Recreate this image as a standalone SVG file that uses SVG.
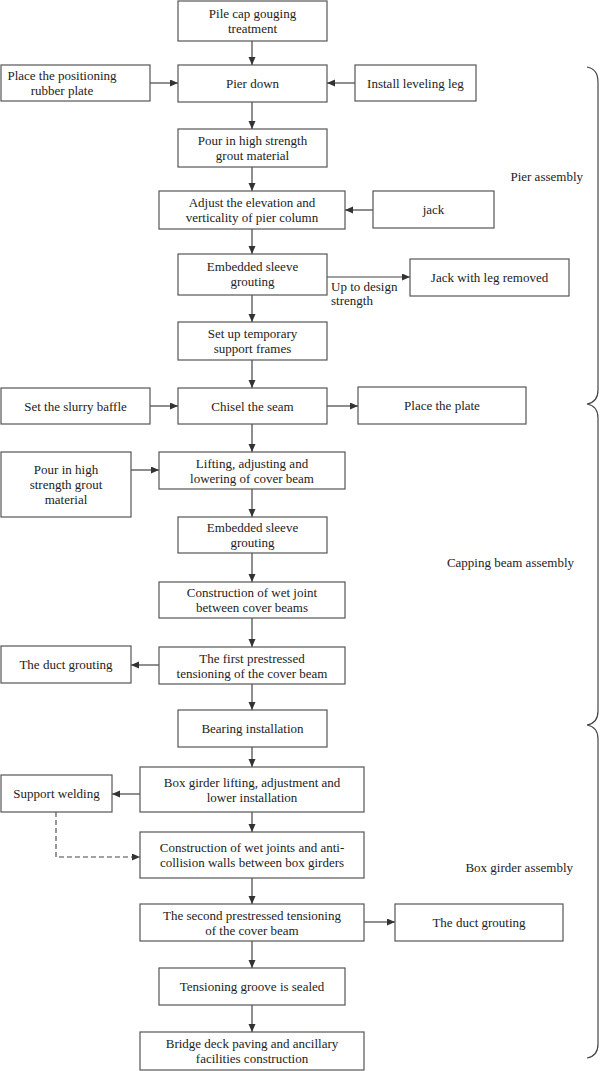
<svg xmlns="http://www.w3.org/2000/svg" width="600" height="1071" viewBox="0 0 600 1071">
<defs>
<marker id="ah" markerUnits="userSpaceOnUse" markerWidth="9" markerHeight="8" refX="8" refY="3.5" orient="auto">
<path d="M0,0 L8,3.5 L0,7 Z" fill="#333"/>
</marker>
<style>
.box{fill:#fff;stroke:#555;stroke-width:1.2}
text{font-family:"Liberation Serif","Times New Roman",serif;font-size:13px;fill:#222;text-anchor:middle}
.lab{text-anchor:end}
.lft{text-anchor:start}
.c{fill:none;stroke:#444;stroke-width:1.2;marker-end:url(#ah)}
.d{fill:none;stroke:#444;stroke-width:1.1;stroke-dasharray:5,3;marker-end:url(#ah)}
.br{fill:none;stroke:#444;stroke-width:1.2}
</style>
</defs>
<rect width="600" height="1071" fill="#fff"/>

<g id="connectors">
<path class="c" d="M252,41 V65"/>
<path class="c" d="M150,83 H178"/>
<path class="c" d="M355,83 H327"/>
<path class="c" d="M252,102 V129"/>
<path class="c" d="M252,167 V191"/>
<path class="c" d="M373,210 H345"/>
<path class="c" d="M252,229 V254"/>
<path class="c" d="M327,277 H410"/>
<path class="c" d="M252,295 V322"/>
<path class="c" d="M252,360 V388"/>
<path class="c" d="M150,406 H178"/>
<path class="c" d="M327,406 H358"/>
<path class="c" d="M252,424 V452"/>
<path class="c" d="M131,470 H159"/>
<path class="c" d="M252,489 V517"/>
<path class="c" d="M252,553 V582"/>
<path class="c" d="M252,618 V647"/>
<path class="c" d="M159,665 H131"/>
<path class="c" d="M252,684 V710"/>
<path class="c" d="M252,747 V767"/>
<path class="c" d="M140,794 H112"/>
<path class="d" d="M56,812 V857 H140"/>
<path class="c" d="M252,812 V832"/>
<path class="c" d="M252,878 V904"/>
<path class="c" d="M364,922 H395"/>
<path class="c" d="M252,941 V968"/>
<path class="c" d="M252,1005 V1032"/>
<text class="lft" x="331" y="291">Up to design</text>
<text class="lft" x="331" y="305">strength</text>
</g>

<g id="braces">
<path class="br" d="M587,67 Q598,69 598,82 V390 Q598,402 587,404 Q598,406 598,418 V711 Q598,723 587,725 Q598,727 598,739 V1044 Q598,1056 587,1058"/>
<text class="lab" x="583" y="181">Pier assembly</text>
<text class="lab" x="574" y="567">Capping beam assembly</text>
<text class="lab" x="573" y="872">Box girder assembly</text>
</g>

<g id="n1"><rect class="box" x="178" y="1" width="149" height="40"/><text x="252.5" y="18">Pile cap gouging</text><text x="252.5" y="33">treatment</text></g>
<g id="n2"><rect class="box" x="1" y="65" width="149" height="36"/><text x="62" y="80">Place the positioning</text><text x="62" y="95">rubber plate</text></g>
<g id="n3"><rect class="box" x="178" y="65" width="149" height="37"/><text x="252.5" y="88">Pier down</text></g>
<g id="n4"><rect class="box" x="355" y="65" width="121" height="36"/><text x="415.5" y="87.5">Install leveling leg</text></g>
<g id="n5"><rect class="box" x="178" y="129" width="149" height="38"/><text x="252.5" y="145">Pour in high strength</text><text x="252.5" y="160">grout material</text></g>
<g id="n6"><rect class="box" x="159" y="191" width="186" height="38"/><text x="252" y="207">Adjust the elevation and</text><text x="252" y="222">verticality of pier column</text></g>
<g id="n7"><rect class="box" x="373" y="191" width="121" height="37"/><text x="433.5" y="214">jack</text></g>
<g id="n8"><rect class="box" x="178" y="254" width="149" height="41"/><text x="252.5" y="271">Embedded sleeve</text><text x="252.5" y="286">grouting</text></g>
<g id="n9"><rect class="box" x="410" y="259" width="159" height="37"/><text x="489.5" y="282">Jack with leg removed</text></g>
<g id="n10"><rect class="box" x="178" y="322" width="149" height="38"/><text x="252.5" y="338">Set up temporary</text><text x="252.5" y="353">support frames</text></g>
<g id="n11"><rect class="box" x="1" y="388" width="149" height="36"/><text x="75.5" y="410.5">Set the slurry baffle</text></g>
<g id="n12"><rect class="box" x="178" y="388" width="149" height="36"/><text x="252.5" y="410.5">Chisel the seam</text></g>
<g id="n13"><rect class="box" x="358" y="387" width="168" height="37"/><text x="442" y="410">Place the plate</text></g>
<g id="n14"><rect class="box" x="1" y="452" width="130" height="65"/><text x="66" y="474">Pour in high</text><text x="66" y="489">strength grout</text><text x="66" y="504">material</text></g>
<g id="n15"><rect class="box" x="159" y="452" width="186" height="37"/><text x="252" y="467.5">Lifting, adjusting and</text><text x="252" y="482.5">lowering of cover beam</text></g>
<g id="n16"><rect class="box" x="178" y="517" width="149" height="36"/><text x="252.5" y="532">Embedded sleeve</text><text x="252.5" y="547">grouting</text></g>
<g id="n17"><rect class="box" x="159" y="582" width="186" height="36"/><text x="252" y="597">Construction of wet joint</text><text x="252" y="612">between cover beams</text></g>
<g id="n18"><rect class="box" x="1" y="646" width="130" height="37"/><text x="66" y="669">The duct grouting</text></g>
<g id="n19"><rect class="box" x="159" y="647" width="186" height="37"/><text x="252" y="662.5">The first prestressed</text><text x="252" y="677.5">tensioning of the cover beam</text></g>
<g id="n20"><rect class="box" x="178" y="710" width="149" height="37"/><text x="252.5" y="733">Bearing installation</text></g>
<g id="n21"><rect class="box" x="1" y="775" width="111" height="37"/><text x="56.5" y="798">Support welding</text></g>
<g id="n22"><rect class="box" x="140" y="767" width="224" height="45"/><text x="252" y="786.5">Box girder lifting, adjustment and</text><text x="252" y="801.5">lower installation</text></g>
<g id="n23"><rect class="box" x="140" y="832" width="224" height="46"/><text x="252" y="852">Construction of wet joints and anti-</text><text x="252" y="867">collision walls between box girders</text></g>
<g id="n24"><rect class="box" x="140" y="904" width="224" height="37"/><text x="252" y="919.5">The second prestressed tensioning</text><text x="252" y="934.5">of the cover beam</text></g>
<g id="n25"><rect class="box" x="395" y="904" width="168" height="37"/><text x="479" y="927">The duct grouting</text></g>
<g id="n26"><rect class="box" x="159" y="968" width="186" height="37"/><text x="252" y="991">Tensioning groove is sealed</text></g>
<g id="n27"><rect class="box" x="140" y="1032" width="224" height="38"/><text x="252" y="1048">Bridge deck paving and ancillary</text><text x="252" y="1063">facilities construction</text></g>
</svg>
